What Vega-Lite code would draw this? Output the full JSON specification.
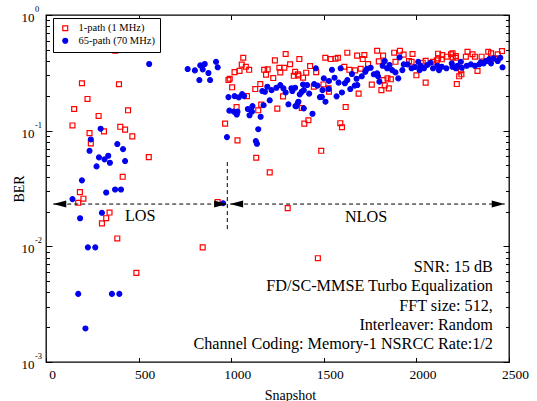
{
  "$schema": "https://vega.github.io/schema/vega-lite/v6.json",
  "width": 463,
  "height": 347,
  "autosize": {"type": "none"},
  "padding": {"left": 46, "top": 15, "right": 28, "bottom": 39},
  "background": "white",
  "config": {
    "view": {"stroke": "black", "strokeWidth": 1.3},
    "font": "Liberation Serif",
    "axis": {"grid": false, "domain": false, "tickColor": "black", "tickWidth": 1, "labelColor": "black", "titleColor": "black", "labelFont": "Liberation Serif", "titleFont": "Liberation Serif", "titleFontWeight": "normal"}
  },
  "datasets": {
    "pts": [
      {"s": "1-path (1 MHz)", "x": 374, "y": 0.491}, {"s": "1-path (1 MHz)", "x": 194, "y": 0.257}, {"s": "1-path (1 MHz)", "x": 394, "y": 0.252},
      {"s": "1-path (1 MHz)", "x": 224, "y": 0.188}, {"s": "1-path (1 MHz)", "x": 152, "y": 0.154}, {"s": "1-path (1 MHz)", "x": 443, "y": 0.150},
      {"s": "1-path (1 MHz)", "x": 284, "y": 0.134}, {"s": "1-path (1 MHz)", "x": 143, "y": 0.111}, {"s": "1-path (1 MHz)", "x": 401, "y": 0.108},
      {"s": "1-path (1 MHz)", "x": 427, "y": 0.102}, {"s": "1-path (1 MHz)", "x": 313, "y": 0.0986}, {"s": "1-path (1 MHz)", "x": 235, "y": 0.0953},
      {"s": "1-path (1 MHz)", "x": 466, "y": 0.0892}, {"s": "1-path (1 MHz)", "x": 242, "y": 0.0776}, {"s": "1-path (1 MHz)", "x": 414, "y": 0.0399},
      {"s": "1-path (1 MHz)", "x": 183, "y": 0.0294}, {"s": "1-path (1 MHz)", "x": 202, "y": 0.0258}, {"s": "1-path (1 MHz)", "x": 174, "y": 0.0238},
      {"s": "1-path (1 MHz)", "x": 343, "y": 0.0196}, {"s": "1-path (1 MHz)", "x": 325, "y": 0.0175}, {"s": "1-path (1 MHz)", "x": 302, "y": 0.0158},
      {"s": "1-path (1 MHz)", "x": 385, "y": 0.0117}, {"s": "1-path (1 MHz)", "x": 488, "y": 0.0059}, {"s": "1-path (1 MHz)", "x": 555, "y": 0.0591},
      {"s": "1-path (1 MHz)", "x": 846, "y": 0.0098}, {"s": "1-path (1 MHz)", "x": 927, "y": 0.0241}, {"s": "1-path (1 MHz)", "x": 1305, "y": 0.0214},
      {"s": "1-path (1 MHz)", "x": 1468, "y": 0.0079},
      {"s": "1-path (1 MHz)", "x": 1065, "y": 0.427}, {"s": "1-path (1 MHz)", "x": 1057, "y": 0.372}, {"s": "1-path (1 MHz)", "x": 1079, "y": 0.357},
      {"s": "1-path (1 MHz)", "x": 1097, "y": 0.336}, {"s": "1-path (1 MHz)", "x": 1045, "y": 0.329}, {"s": "1-path (1 MHz)", "x": 1018, "y": 0.321},
      {"s": "1-path (1 MHz)", "x": 985, "y": 0.274}, {"s": "1-path (1 MHz)", "x": 992, "y": 0.281}, {"s": "1-path (1 MHz)", "x": 1005, "y": 0.237},
      {"s": "1-path (1 MHz)", "x": 1236, "y": 0.405}, {"s": "1-path (1 MHz)", "x": 1294, "y": 0.46}, {"s": "1-path (1 MHz)", "x": 1318, "y": 0.375},
      {"s": "1-path (1 MHz)", "x": 1260, "y": 0.35}, {"s": "1-path (1 MHz)", "x": 1287, "y": 0.35}, {"s": "1-path (1 MHz)", "x": 1178, "y": 0.336},
      {"s": "1-path (1 MHz)", "x": 1197, "y": 0.339}, {"s": "1-path (1 MHz)", "x": 1188, "y": 0.305}, {"s": "1-path (1 MHz)", "x": 1227, "y": 0.285},
      {"s": "1-path (1 MHz)", "x": 1265, "y": 0.319}, {"s": "1-path (1 MHz)", "x": 1345, "y": 0.323}, {"s": "1-path (1 MHz)", "x": 1338, "y": 0.298},
      {"s": "1-path (1 MHz)", "x": 1363, "y": 0.3}, {"s": "1-path (1 MHz)", "x": 1388, "y": 0.287}, {"s": "1-path (1 MHz)", "x": 1157, "y": 0.253},
      {"s": "1-path (1 MHz)", "x": 1130, "y": 0.229}, {"s": "1-path (1 MHz)", "x": 1085, "y": 0.199}, {"s": "1-path (1 MHz)", "x": 1280, "y": 0.198},
      {"s": "1-path (1 MHz)", "x": 1029, "y": 0.16}, {"s": "1-path (1 MHz)", "x": 1162, "y": 0.168}, {"s": "1-path (1 MHz)", "x": 1249, "y": 0.155},
      {"s": "1-path (1 MHz)", "x": 1146, "y": 0.15}, {"s": "1-path (1 MHz)", "x": 1381, "y": 0.157}, {"s": "1-path (1 MHz)", "x": 967, "y": 0.115},
      {"s": "1-path (1 MHz)", "x": 1395, "y": 0.115}, {"s": "1-path (1 MHz)", "x": 1034, "y": 0.0824}, {"s": "1-path (1 MHz)", "x": 1135, "y": 0.0583},
      {"s": "1-path (1 MHz)", "x": 1208, "y": 0.0436},
      {"s": "1-path (1 MHz)", "x": 1368, "y": 0.416}, {"s": "1-path (1 MHz)", "x": 1508, "y": 0.427}, {"s": "1-path (1 MHz)", "x": 1537, "y": 0.416},
      {"s": "1-path (1 MHz)", "x": 1563, "y": 0.419}, {"s": "1-path (1 MHz)", "x": 1576, "y": 0.427}, {"s": "1-path (1 MHz)", "x": 1627, "y": 0.472},
      {"s": "1-path (1 MHz)", "x": 1680, "y": 0.445}, {"s": "1-path (1 MHz)", "x": 1719, "y": 0.451}, {"s": "1-path (1 MHz)", "x": 1710, "y": 0.416},
      {"s": "1-path (1 MHz)", "x": 1788, "y": 0.491}, {"s": "1-path (1 MHz)", "x": 1797, "y": 0.397}, {"s": "1-path (1 MHz)", "x": 1820, "y": 0.445},
      {"s": "1-path (1 MHz)", "x": 1426, "y": 0.362}, {"s": "1-path (1 MHz)", "x": 1405, "y": 0.317}, {"s": "1-path (1 MHz)", "x": 1360, "y": 0.307},
      {"s": "1-path (1 MHz)", "x": 1459, "y": 0.321}, {"s": "1-path (1 MHz)", "x": 1611, "y": 0.357}, {"s": "1-path (1 MHz)", "x": 1638, "y": 0.336},
      {"s": "1-path (1 MHz)", "x": 1669, "y": 0.332}, {"s": "1-path (1 MHz)", "x": 1699, "y": 0.343}, {"s": "1-path (1 MHz)", "x": 1739, "y": 0.377},
      {"s": "1-path (1 MHz)", "x": 1446, "y": 0.24}, {"s": "1-path (1 MHz)", "x": 1498, "y": 0.251}, {"s": "1-path (1 MHz)", "x": 1526, "y": 0.232},
      {"s": "1-path (1 MHz)", "x": 1528, "y": 0.217}, {"s": "1-path (1 MHz)", "x": 1759, "y": 0.25}, {"s": "1-path (1 MHz)", "x": 1811, "y": 0.224},
      {"s": "1-path (1 MHz)", "x": 1688, "y": 0.209}, {"s": "1-path (1 MHz)", "x": 1618, "y": 0.16}, {"s": "1-path (1 MHz)", "x": 1417, "y": 0.123},
      {"s": "1-path (1 MHz)", "x": 1589, "y": 0.116}, {"s": "1-path (1 MHz)", "x": 1598, "y": 0.107}, {"s": "1-path (1 MHz)", "x": 1486, "y": 0.067},
      {"s": "1-path (1 MHz)", "x": 1880, "y": 0.472}, {"s": "1-path (1 MHz)", "x": 1911, "y": 0.491}, {"s": "1-path (1 MHz)", "x": 1931, "y": 0.454},
      {"s": "1-path (1 MHz)", "x": 1979, "y": 0.46}, {"s": "1-path (1 MHz)", "x": 1887, "y": 0.394}, {"s": "1-path (1 MHz)", "x": 1960, "y": 0.4},
      {"s": "1-path (1 MHz)", "x": 1974, "y": 0.394}, {"s": "1-path (1 MHz)", "x": 2050, "y": 0.402}, {"s": "1-path (1 MHz)", "x": 2034, "y": 0.387},
      {"s": "1-path (1 MHz)", "x": 2090, "y": 0.394}, {"s": "1-path (1 MHz)", "x": 2117, "y": 0.463}, {"s": "1-path (1 MHz)", "x": 2117, "y": 0.422},
      {"s": "1-path (1 MHz)", "x": 2140, "y": 0.451}, {"s": "1-path (1 MHz)", "x": 2164, "y": 0.436}, {"s": "1-path (1 MHz)", "x": 2187, "y": 0.458},
      {"s": "1-path (1 MHz)", "x": 2196, "y": 0.43}, {"s": "1-path (1 MHz)", "x": 2213, "y": 0.427}, {"s": "1-path (1 MHz)", "x": 2137, "y": 0.414},
      {"s": "1-path (1 MHz)", "x": 2110, "y": 0.405}, {"s": "1-path (1 MHz)", "x": 2000, "y": 0.301}, {"s": "1-path (1 MHz)", "x": 2050, "y": 0.26},
      {"s": "1-path (1 MHz)", "x": 2218, "y": 0.253}, {"s": "1-path (1 MHz)", "x": 2231, "y": 0.295}, {"s": "1-path (1 MHz)", "x": 2243, "y": 0.307},
      {"s": "1-path (1 MHz)", "x": 1844, "y": 0.283}, {"s": "1-path (1 MHz)", "x": 1862, "y": 0.278}, {"s": "1-path (1 MHz)", "x": 1822, "y": 0.274},
      {"s": "1-path (1 MHz)", "x": 1829, "y": 0.246}, {"s": "1-path (1 MHz)", "x": 1851, "y": 0.232},
      {"s": "1-path (1 MHz)", "x": 2195, "y": 0.466}, {"s": "1-path (1 MHz)", "x": 2213, "y": 0.442}, {"s": "1-path (1 MHz)", "x": 2276, "y": 0.481},
      {"s": "1-path (1 MHz)", "x": 2267, "y": 0.436}, {"s": "1-path (1 MHz)", "x": 2303, "y": 0.458}, {"s": "1-path (1 MHz)", "x": 2316, "y": 0.436},
      {"s": "1-path (1 MHz)", "x": 2352, "y": 0.436}, {"s": "1-path (1 MHz)", "x": 2388, "y": 0.481}, {"s": "1-path (1 MHz)", "x": 2403, "y": 0.466},
      {"s": "1-path (1 MHz)", "x": 2439, "y": 0.458}, {"s": "1-path (1 MHz)", "x": 2462, "y": 0.488}, {"s": "1-path (1 MHz)", "x": 2426, "y": 0.422},
      {"s": "1-path (1 MHz)", "x": 2240, "y": 0.334}, {"s": "1-path (1 MHz)", "x": 2330, "y": 0.328}, {"s": "1-path (1 MHz)", "x": 2384, "y": 0.4},

      {"s": "65-path (70 MHz)", "x": 295, "y": 0.104}, {"s": "65-path (70 MHz)", "x": 242, "y": 0.084}, {"s": "65-path (70 MHz)", "x": 235, "y": 0.067},
      {"s": "65-path (70 MHz)", "x": 385, "y": 0.0766}, {"s": "65-path (70 MHz)", "x": 416, "y": 0.0693}, {"s": "65-path (70 MHz)", "x": 286, "y": 0.0588},
      {"s": "65-path (70 MHz)", "x": 316, "y": 0.0565}, {"s": "65-path (70 MHz)", "x": 336, "y": 0.0607}, {"s": "65-path (70 MHz)", "x": 345, "y": 0.0528},
      {"s": "65-path (70 MHz)", "x": 427, "y": 0.0546}, {"s": "65-path (70 MHz)", "x": 273, "y": 0.0491}, {"s": "65-path (70 MHz)", "x": 194, "y": 0.0372},
      {"s": "65-path (70 MHz)", "x": 325, "y": 0.0292}, {"s": "65-path (70 MHz)", "x": 373, "y": 0.031}, {"s": "65-path (70 MHz)", "x": 405, "y": 0.031},
      {"s": "65-path (70 MHz)", "x": 143, "y": 0.0256}, {"s": "65-path (70 MHz)", "x": 302, "y": 0.0195}, {"s": "65-path (70 MHz)", "x": 184, "y": 0.0175},
      {"s": "65-path (70 MHz)", "x": 226, "y": 0.0098}, {"s": "65-path (70 MHz)", "x": 266, "y": 0.0098}, {"s": "65-path (70 MHz)", "x": 174, "y": 0.00388},
      {"s": "65-path (70 MHz)", "x": 356, "y": 0.00388}, {"s": "65-path (70 MHz)", "x": 396, "y": 0.00388}, {"s": "65-path (70 MHz)", "x": 213, "y": 0.00195},
      {"s": "65-path (70 MHz)", "x": 557, "y": 0.377}, {"s": "65-path (70 MHz)", "x": 765, "y": 0.341}, {"s": "65-path (70 MHz)", "x": 804, "y": 0.332},
      {"s": "65-path (70 MHz)", "x": 833, "y": 0.367}, {"s": "65-path (70 MHz)", "x": 857, "y": 0.377}, {"s": "65-path (70 MHz)", "x": 846, "y": 0.339},
      {"s": "65-path (70 MHz)", "x": 877, "y": 0.315}, {"s": "65-path (70 MHz)", "x": 828, "y": 0.274}, {"s": "65-path (70 MHz)", "x": 886, "y": 0.274},
      {"s": "65-path (70 MHz)", "x": 918, "y": 0.394}, {"s": "65-path (70 MHz)", "x": 927, "y": 0.353}, {"s": "65-path (70 MHz)", "x": 985, "y": 0.195},
      {"s": "65-path (70 MHz)", "x": 990, "y": 0.149}, {"s": "65-path (70 MHz)", "x": 977, "y": 0.088}, {"s": "65-path (70 MHz)", "x": 956, "y": 0.0236},
      {"s": "65-path (70 MHz)", "x": 1018, "y": 0.199}, {"s": "65-path (70 MHz)", "x": 1041, "y": 0.194}, {"s": "65-path (70 MHz)", "x": 1059, "y": 0.207},
      {"s": "65-path (70 MHz)", "x": 1070, "y": 0.199}, {"s": "65-path (70 MHz)", "x": 1014, "y": 0.146}, {"s": "65-path (70 MHz)", "x": 1030, "y": 0.138},
      {"s": "65-path (70 MHz)", "x": 1034, "y": 0.146}, {"s": "65-path (70 MHz)", "x": 1090, "y": 0.154}, {"s": "65-path (70 MHz)", "x": 1115, "y": 0.163},
      {"s": "65-path (70 MHz)", "x": 1099, "y": 0.136}, {"s": "65-path (70 MHz)", "x": 1112, "y": 0.146}, {"s": "65-path (70 MHz)", "x": 1159, "y": 0.132},
      {"s": "65-path (70 MHz)", "x": 1146, "y": 0.103}, {"s": "65-path (70 MHz)", "x": 1133, "y": 0.0813}, {"s": "65-path (70 MHz)", "x": 1139, "y": 0.0771},
      {"s": "65-path (70 MHz)", "x": 1175, "y": 0.166}, {"s": "65-path (70 MHz)", "x": 1208, "y": 0.183}, {"s": "65-path (70 MHz)", "x": 1168, "y": 0.22},
      {"s": "65-path (70 MHz)", "x": 1195, "y": 0.24}, {"s": "65-path (70 MHz)", "x": 1218, "y": 0.224}, {"s": "65-path (70 MHz)", "x": 1244, "y": 0.235},
      {"s": "65-path (70 MHz)", "x": 1265, "y": 0.248}, {"s": "65-path (70 MHz)", "x": 1282, "y": 0.232}, {"s": "65-path (70 MHz)", "x": 1294, "y": 0.214},
      {"s": "65-path (70 MHz)", "x": 1325, "y": 0.233}, {"s": "65-path (70 MHz)", "x": 1330, "y": 0.22}, {"s": "65-path (70 MHz)", "x": 1309, "y": 0.169},
      {"s": "65-path (70 MHz)", "x": 1347, "y": 0.163}, {"s": "65-path (70 MHz)", "x": 1363, "y": 0.178}, {"s": "65-path (70 MHz)", "x": 1392, "y": 0.156},
      {"s": "65-path (70 MHz)", "x": 1392, "y": 0.224}, {"s": "65-path (70 MHz)", "x": 1182, "y": 0.217},
      {"s": "65-path (70 MHz)", "x": 1457, "y": 0.346}, {"s": "65-path (70 MHz)", "x": 1544, "y": 0.336}, {"s": "65-path (70 MHz)", "x": 1591, "y": 0.346},
      {"s": "65-path (70 MHz)", "x": 1345, "y": 0.235}, {"s": "65-path (70 MHz)", "x": 1388, "y": 0.251}, {"s": "65-path (70 MHz)", "x": 1410, "y": 0.248},
      {"s": "65-path (70 MHz)", "x": 1448, "y": 0.253}, {"s": "65-path (70 MHz)", "x": 1466, "y": 0.245}, {"s": "65-path (70 MHz)", "x": 1500, "y": 0.283},
      {"s": "65-path (70 MHz)", "x": 1528, "y": 0.269}, {"s": "65-path (70 MHz)", "x": 1558, "y": 0.287}, {"s": "65-path (70 MHz)", "x": 1580, "y": 0.26},
      {"s": "65-path (70 MHz)", "x": 1614, "y": 0.257}, {"s": "65-path (70 MHz)", "x": 1627, "y": 0.274}, {"s": "65-path (70 MHz)", "x": 1652, "y": 0.309},
      {"s": "65-path (70 MHz)", "x": 1677, "y": 0.281}, {"s": "65-path (70 MHz)", "x": 1705, "y": 0.295}, {"s": "65-path (70 MHz)", "x": 1724, "y": 0.323},
      {"s": "65-path (70 MHz)", "x": 1732, "y": 0.341}, {"s": "65-path (70 MHz)", "x": 1753, "y": 0.35}, {"s": "65-path (70 MHz)", "x": 1770, "y": 0.307},
      {"s": "65-path (70 MHz)", "x": 1793, "y": 0.295}, {"s": "65-path (70 MHz)", "x": 1818, "y": 0.364}, {"s": "65-path (70 MHz)", "x": 1381, "y": 0.217},
      {"s": "65-path (70 MHz)", "x": 1370, "y": 0.206}, {"s": "65-path (70 MHz)", "x": 1421, "y": 0.209}, {"s": "65-path (70 MHz)", "x": 1493, "y": 0.224},
      {"s": "65-path (70 MHz)", "x": 1490, "y": 0.196}, {"s": "65-path (70 MHz)", "x": 1479, "y": 0.195}, {"s": "65-path (70 MHz)", "x": 1526, "y": 0.229},
      {"s": "65-path (70 MHz)", "x": 1569, "y": 0.198}, {"s": "65-path (70 MHz)", "x": 1598, "y": 0.214}, {"s": "65-path (70 MHz)", "x": 1643, "y": 0.229},
      {"s": "65-path (70 MHz)", "x": 1667, "y": 0.245}, {"s": "65-path (70 MHz)", "x": 1681, "y": 0.248}, {"s": "65-path (70 MHz)", "x": 1509, "y": 0.178},
      {"s": "65-path (70 MHz)", "x": 1360, "y": 0.174}, {"s": "65-path (70 MHz)", "x": 1352, "y": 0.163}, {"s": "65-path (70 MHz)", "x": 1439, "y": 0.14},
      {"s": "65-path (70 MHz)", "x": 1829, "y": 0.4}, {"s": "65-path (70 MHz)", "x": 1909, "y": 0.43}, {"s": "65-path (70 MHz)", "x": 1855, "y": 0.37},
      {"s": "65-path (70 MHz)", "x": 1842, "y": 0.346}, {"s": "65-path (70 MHz)", "x": 1869, "y": 0.334}, {"s": "65-path (70 MHz)", "x": 1887, "y": 0.319},
      {"s": "65-path (70 MHz)", "x": 1924, "y": 0.334}, {"s": "65-path (70 MHz)", "x": 1932, "y": 0.374}, {"s": "65-path (70 MHz)", "x": 1952, "y": 0.374},
      {"s": "65-path (70 MHz)", "x": 1974, "y": 0.346}, {"s": "65-path (70 MHz)", "x": 1992, "y": 0.355}, {"s": "65-path (70 MHz)", "x": 2010, "y": 0.394},
      {"s": "65-path (70 MHz)", "x": 2017, "y": 0.334}, {"s": "65-path (70 MHz)", "x": 2041, "y": 0.346}, {"s": "65-path (70 MHz)", "x": 2059, "y": 0.37},
      {"s": "65-path (70 MHz)", "x": 2077, "y": 0.387}, {"s": "65-path (70 MHz)", "x": 2090, "y": 0.346}, {"s": "65-path (70 MHz)", "x": 2113, "y": 0.364},
      {"s": "65-path (70 MHz)", "x": 2137, "y": 0.357}, {"s": "65-path (70 MHz)", "x": 2162, "y": 0.346}, {"s": "65-path (70 MHz)", "x": 2191, "y": 0.382},
      {"s": "65-path (70 MHz)", "x": 2222, "y": 0.364}, {"s": "65-path (70 MHz)", "x": 2245, "y": 0.35}, {"s": "65-path (70 MHz)", "x": 1788, "y": 0.313},
      {"s": "65-path (70 MHz)", "x": 1800, "y": 0.265}, {"s": "65-path (70 MHz)", "x": 1902, "y": 0.283}, {"s": "65-path (70 MHz)", "x": 2122, "y": 0.334},
      {"s": "65-path (70 MHz)", "x": 2023, "y": 0.364},
      {"s": "65-path (70 MHz)", "x": 2195, "y": 0.357}, {"s": "65-path (70 MHz)", "x": 2272, "y": 0.364}, {"s": "65-path (70 MHz)", "x": 2294, "y": 0.374},
      {"s": "65-path (70 MHz)", "x": 2316, "y": 0.364}, {"s": "65-path (70 MHz)", "x": 2339, "y": 0.374}, {"s": "65-path (70 MHz)", "x": 2363, "y": 0.382},
      {"s": "65-path (70 MHz)", "x": 2375, "y": 0.4}, {"s": "65-path (70 MHz)", "x": 2393, "y": 0.416}, {"s": "65-path (70 MHz)", "x": 2417, "y": 0.422},
      {"s": "65-path (70 MHz)", "x": 2439, "y": 0.4}, {"s": "65-path (70 MHz)", "x": 2453, "y": 0.427}, {"s": "65-path (70 MHz)", "x": 2465, "y": 0.353},
      {"s": "65-path (70 MHz)", "x": 2240, "y": 0.394}, {"s": "65-path (70 MHz)", "x": 2213, "y": 0.346}, {"s": "65-path (70 MHz)", "x": 2403, "y": 0.382},
      {"s": "65-path (70 MHz)", "x": 2348, "y": 0.39}
    ]
  },
  "layer": [
    {
      "data": {"name": "pts"},
      "mark": {"type": "point", "opacity": 1, "strokeWidth": 1.2, "size": 24},
      "encoding": {
        "x": {"field": "x", "type": "quantitative", "scale": {"domain": [0, 2500], "nice": false, "zero": false},
          "axis": {"orient": "bottom", "values": [0, 500, 1000, 1500, 2000, 2500], "tickSize": -4.5, "labelPadding": 10, "labelOffset": 6, "labelFontSize": 13.5, "labelFlush": false, "format": "d",
            "title": "Snapshot", "titleFontSize": 14, "titleX": 244, "titleY": 37, "titleBaseline": "alphabetic"}},
        "y": {"field": "y", "type": "quantitative", "scale": {"type": "log", "domain": [0.001, 1], "nice": false},
          "axis": {"orient": "left", "labels": false,
            "values": [0.001, 0.002, 0.003, 0.004, 0.005, 0.006, 0.007, 0.008, 0.009, 0.01, 0.02, 0.03, 0.04, 0.05, 0.06, 0.07, 0.08, 0.09, 0.1, 0.2, 0.3, 0.4, 0.5, 0.6, 0.7, 0.8, 0.9, 1],
            "tickSize": {"condition": {"test": "abs(log(datum.value)/LN10 - round(log(datum.value)/LN10)) < 0.001", "value": -6}, "value": -3.5},
            "title": "BER", "titleFontSize": 14, "titleX": -26.5, "titleY": 173.5, "titleAngle": -90, "titleAlign": "center", "titleBaseline": "middle"}},
        "shape": {"field": "s", "type": "nominal", "scale": {"domain": ["1-path (1 MHz)", "65-path (70 MHz)"], "range": ["square", "circle"]},
          "legend": {"title": null, "orient": "none", "legendX": 7, "legendY": 3, "direction": "vertical", "fillColor": "white", "strokeColor": "black", "padding": 5,
            "labelFont": "Liberation Serif", "labelFontSize": 10.5, "labelColor": "black", "symbolStrokeWidth": 1.2, "symbolSize": 24, "rowPadding": 1.5, "symbolOffset": 2, "labelOffset": 8}},
        "stroke": {"field": "s", "type": "nominal", "scale": {"domain": ["1-path (1 MHz)", "65-path (70 MHz)"], "range": ["#ff0000", "#0000ee"]}, "legend": {"title": null}},
        "fill": {"field": "s", "type": "nominal", "scale": {"domain": ["1-path (1 MHz)", "65-path (70 MHz)"], "range": ["transparent", "#0000ee"]}, "legend": {"title": null}}
      }
    },
    {
      "data": {"values": [{"x": 979, "y": 0.0535, "y2": 0.0138}]},
      "mark": {"type": "rule", "color": "black", "strokeWidth": 1, "strokeDash": [4, 3]},
      "encoding": {
        "x": {"field": "x", "type": "quantitative",
          "axis": {"orient": "top", "labels": false, "title": null, "values": [0, 500, 1000, 1500, 2000, 2500], "tickSize": -4.5}},
        "y": {"field": "y", "type": "quantitative",
          "axis": {"orient": "right", "labels": false, "title": null,
            "values": [0.001, 0.002, 0.003, 0.004, 0.005, 0.006, 0.007, 0.008, 0.009, 0.01, 0.02, 0.03, 0.04, 0.05, 0.06, 0.07, 0.08, 0.09, 0.1, 0.2, 0.3, 0.4, 0.5, 0.6, 0.7, 0.8, 0.9, 1],
            "tickSize": {"condition": {"test": "abs(log(datum.value)/LN10 - round(log(datum.value)/LN10)) < 0.001", "value": -6}, "value": -3.5}}},
        "y2": {"field": "y2"}
      }
    },
    {
      "data": {"values": [{"x": 39, "x2": 978, "y": 0.0232}, {"x": 994, "x2": 2477, "y": 0.0232}]},
      "mark": {"type": "rule", "color": "black", "strokeWidth": 1, "strokeDash": [4, 3]},
      "encoding": {
        "x": {"field": "x", "type": "quantitative", "axis": null},
        "x2": {"field": "x2"},
        "y": {"field": "y", "type": "quantitative", "axis": null}
      }
    },
    {
      "data": {"values": [{"x": 39, "y": 0.0232}, {"x": 994, "y": 0.0232}]},
      "mark": {"type": "point", "shape": "M0,0L1.86,-0.5L1.86,0.5Z", "size": 196, "filled": true, "color": "black", "opacity": 1},
      "encoding": {
        "x": {"field": "x", "type": "quantitative", "axis": null},
        "y": {"field": "y", "type": "quantitative", "axis": null}
      }
    },
    {
      "data": {"values": [{"x": 978, "y": 0.0232}, {"x": 2477, "y": 0.0232}]},
      "mark": {"type": "point", "shape": "M0,0L-1.86,-0.5L-1.86,0.5Z", "size": 196, "filled": true, "color": "black", "opacity": 1},
      "encoding": {
        "x": {"field": "x", "type": "quantitative", "axis": null},
        "y": {"field": "y", "type": "quantitative", "axis": null}
      }
    },
    {
      "data": {"values": [{"x": 509, "y": 0.0182, "t": "LOS"}, {"x": 1728, "y": 0.0179, "t": "NLOS"}]},
      "mark": {"type": "text", "align": "center", "baseline": "middle", "fontSize": 16.2, "font": "Liberation Serif", "color": "black"},
      "encoding": {
        "x": {"field": "x", "type": "quantitative", "axis": null},
        "y": {"field": "y", "type": "quantitative", "axis": null},
        "text": {"field": "t"}
      }
    },
    {
      "data": {"values": [
        {"x": 2413, "y": 0.006017, "t": "SNR: 15 dB"},
        {"x": 2413, "y": 0.0041, "t": "FD/SC-MMSE Turbo Equalization"},
        {"x": 2413, "y": 0.002767, "t": "FFT size: 512,"},
        {"x": 2413, "y": 0.001884, "t": "Interleaver: Random"},
        {"x": 2413, "y": 0.00129, "t": "Channel Coding: Memory-1 NSRCC Rate:1/2"}
      ]},
      "mark": {"type": "text", "align": "right", "baseline": "alphabetic", "fontSize": 16.2, "font": "Liberation Serif", "color": "black"},
      "encoding": {
        "x": {"field": "x", "type": "quantitative", "axis": null},
        "y": {"field": "y", "type": "quantitative", "axis": null},
        "text": {"field": "t"}
      }
    },
    {
      "data": {"values": [{"v": 1, "e": "0"}, {"v": 0.1, "e": "-1"}, {"v": 0.01, "e": "-2"}, {"v": 0.001, "e": "-3"}]},
      "mark": {"type": "text", "text": "10", "align": "right", "baseline": "middle", "dx": -11.5, "dy": 3, "fontSize": 13, "font": "Liberation Serif", "color": "black"},
      "encoding": {
        "x": {"datum": 0, "type": "quantitative", "axis": null},
        "y": {"field": "v", "type": "quantitative", "axis": null}
      }
    },
    {
      "data": {"values": [{"v": 1, "e": "0"}, {"v": 0.1, "e": "-1"}, {"v": 0.01, "e": "-2"}, {"v": 0.001, "e": "-3"}]},
      "mark": {"type": "text", "align": "left", "baseline": "middle", "dx": -11, "dy": -6, "fontSize": 8.5, "font": "Liberation Serif", "color": "black"},
      "encoding": {
        "x": {"datum": 0, "type": "quantitative", "axis": null},
        "y": {"field": "v", "type": "quantitative", "axis": null},
        "text": {"field": "e"}
      }
    }
  ],
  "resolve": {"axis": {"x": "independent", "y": "independent"}}
}
